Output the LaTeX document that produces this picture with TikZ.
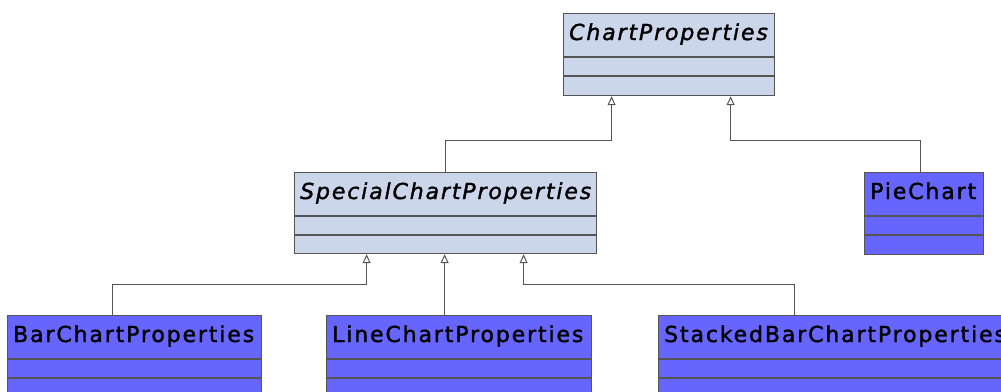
\documentclass[tikz,border=0pt]{standalone}
\usepackage{fontspec}
\usetikzlibrary{arrows.meta,calc}
\newfontfamily\umlfont{DejaVu Sans}[LetterSpace=8.5, FakeBold=1.6]
\definecolor{edgegray}{RGB}{85,85,85}
\definecolor{abstractfill}{RGB}{204,214,234}
\definecolor{concretefill}{RGB}{102,102,255}
\tikzset{
  classbox/.style={draw=edgegray, line width=1.2pt, anchor=north west, inner sep=0pt},
  abstractcls/.style={classbox, fill=abstractfill},
  concretecls/.style={classbox, fill=concretefill},
  classname/.style={anchor=base west, inner sep=0pt, font=\umlfont\fontsize{22}{26}\selectfont},
  compartment/.style={draw=edgegray, line width=1.2pt},
  generalize/.style={draw=edgegray, line width=1pt,
    -{Triangle[open, width=8pt, length=9pt, line width=1pt]}}
}
% one UML class: name, fill style, top-left x, top-left y, width, height, name text
\newcommand\umlclass[7]{%
  \node[#2, minimum width=#5pt, minimum height=#6pt] (#1) at (#3,#4) {};
  \node[classname] (#1-name) at ($(#1.north west)+(6,27)$) {#7};
  \draw[compartment] ($(#1.north west)+(0,44)$) -- ($(#1.north east)+(0,44)$);
  \draw[compartment] ($(#1.north west)+(0,63)$) -- ($(#1.north east)+(0,63)$);
}
\begin{document}
\begin{tikzpicture}[x=1pt,y=-1pt]
  \useasboundingbox (0,0) rectangle (1001,391);
  \clip (0,0) rectangle (1001,391);

  \umlclass{cp}{abstractcls}{563}{13}{211}{82}{\itshape ChartProperties}
  \umlclass{sp}{abstractcls}{294}{172}{302}{81}{\itshape SpecialChartProperties}
  \umlclass{pie}{concretecls}{864}{172}{119}{82}{PieChart}
  \umlclass{bar}{concretecls}{7}{315}{254}{90}{BarChartProperties}
  \umlclass{line}{concretecls}{326}{315}{265}{90}{LineChartProperties}
  \umlclass{stk}{concretecls}{658}{315}{360}{90}{StackedBarChartProperties}

  % generalizations towards ChartProperties
  \draw[generalize] (sp.north) -- (sp.north |- 0,140.5) -| ([xshift=-57.5pt]cp.south);
  \draw[generalize] ([xshift=-3.5pt]pie.north) -- ([xshift=-3.5pt]pie.north |- 0,140.5) -| ([xshift=61.5pt]cp.south);

  % generalizations towards SpecialChartProperties
  \draw[generalize] ([xshift=-22pt]bar.north) -- ([xshift=-22pt]bar.north |- 0,284.5) -| ([xshift=-79pt]sp.south);
  \draw[generalize] ([xshift=-14.5pt]line.north) -- ([xshift=-1pt]sp.south);
  \draw[generalize] ([xshift=136pt]stk.north west) -- ([xshift=136pt]stk.north west |- 0,284.5) -| ([xshift=78pt]sp.south);
\end{tikzpicture}
\end{document}
